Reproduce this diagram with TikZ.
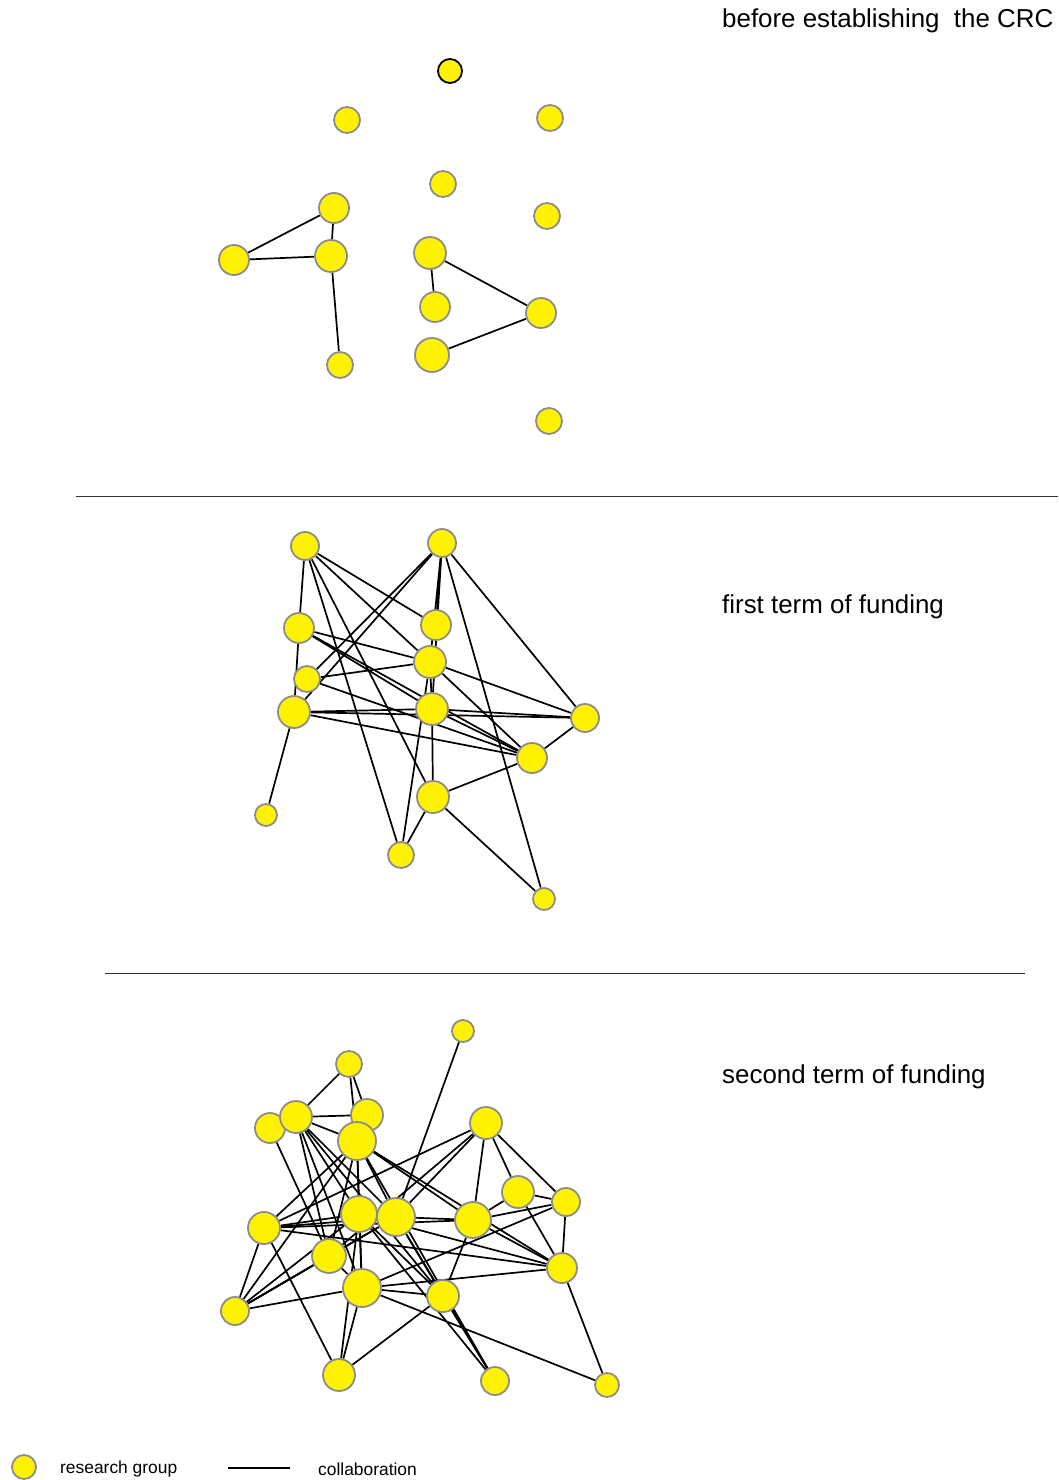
\documentclass[tikz,border=0pt]{standalone}
\usepackage{fontspec}
\setmainfont{Liberation Sans}
\usepackage{tikz}
\usetikzlibrary{backgrounds}

\tikzset{
  group/.style={circle,draw=gray!90,fill=yellow,line width=1.8pt,inner sep=0pt},
  collab/.style={draw=black,line width=1.7pt},
  sep/.style={draw=black!80,line width=1pt},
  title/.style={anchor=west,inner sep=0pt,font=\fontsize{25.9}{30}\selectfont},
  legend/.style={anchor=west,inner sep=0pt,font=\fontsize{17.4}{20}\selectfont}
}

\begin{document}
\begin{tikzpicture}[x=1pt,y=-1pt]
  \useasboundingbox (0,0) rectangle (1058,1480);

  % before establishing the CRC
  \foreach \n/\x/\y/\r in {a2/347/120/13,a3/550/118/13,a4/443/184/13,a5/547/216/13,
      a6/334/208/15,a7/331/256/16,a8/234/260/15,a9/430/253/16,a10/435/307/15,
      a11/541/313/15,a12/432/355/17,a13/340/365/13,a14/549/421/13}
    \node[group,minimum size=2*\r pt] (\n) at (\x,\y) {};
  \node[group,draw=black,minimum size=24pt] (a1) at (450,71) {};
  \begin{scope}[on background layer]
    \foreach \p/\q in {a6/a8,a6/a7,a7/a8,a7/a13,a9/a10,a9/a11,a11/a12}
      \draw[collab] (\p) -- (\q);
  \end{scope}
  \node[title] (t1) at (722,21) {before establishing\ \ the CRC};
  \coordinate (s1l) at (76,496);
  \coordinate (s1r) at (1058,496);
  \draw[sep] (s1l) -- (s1r);

  % first term of funding
  \foreach \n/\x/\y/\r in {b1/305/546/14,b2/442/543/14,b3/299/628/15,b4/436/625/15,
      b5/430/662/16,b6/307/679/13,b7/294/712/16,b8/432/709/16,b9/585/718/14,
      b10/532/758/15,b11/433/797/16,b12/266/815/11,b13/401/855/13,b14/544/899/11}
    \node[group,minimum size=2*\r pt] (\n) at (\x,\y) {};
  \begin{scope}[on background layer]
    \foreach \p/\q in {b1/b3,b1/b4,b1/b5,b1/b13,b1/b11,b2/b6,b2/b7,b2/b4,b2/b5,
        b2/b8,b2/b14,b2/b9,b3/b7,b3/b5,b3/b8,b3/b10,b6/b5,b6/b10,b7/b8,b7/b9,
        b7/b10,b7/b12,b5/b9,b5/b10,b5/b8,b5/b13,b8/b9,b8/b10,b8/b11,b9/b10,
        b10/b11,b11/b13,b11/b14}
      \draw[collab] (\p) -- (\q);
  \end{scope}
  \node[title] (t2) at (722,607) {first term of funding};
  \coordinate (s2l) at (105,973);
  \coordinate (s2r) at (1025,973);
  \draw[sep] (s2l) -- (s2r);

  % second term of funding
  \foreach \n/\x/\y/\r in {c1/463/1031/11,c2/349/1064/13,c3/270/1128/15,c4/296/1117/16,
      c5/367/1115/16,c6/357/1141/19,c7/486/1123/16,c8/518/1192/16,c9/566/1202/14,
      c10/264/1228/16,c11/359/1214/18,c12/396/1217/19,c13/473/1220/18,
      c14/329/1256/17,c15/362/1288/19,c16/562/1268/15,c17/443/1296/16,
      c18/235/1311/14,c19/339/1375/16,c20/495/1381/14,c21/607/1385/12}
    \node[group,minimum size=2*\r pt] (\n) at (\x,\y) {};
  \begin{scope}[on background layer]
    \foreach \p/\q in {c1/c12,c2/c4,c2/c6,c2/c5,c3/c14,c4/c5,c4/c6,c4/c11,c4/c14,
        c4/c15,c4/c17,c4/c12,c5/c6,c6/c11,c6/c12,c6/c15,c6/c13,c6/c16,c6/c14,
        c6/c10,c6/c18,c6/c20,c7/c12,c7/c13,c7/c8,c7/c9,c7/c10,c7/c14,c8/c9,c8/c13,
        c8/c16,c9/c16,c9/c13,c9/c15,c10/c11,c10/c12,c10/c13,c10/c16,c10/c18,
        c10/c19,c11/c15,c11/c19,c11/c17,c11/c16,c11/c20,c12/c13,c12/c17,c12/c20,
        c12/c18,c13/c16,c13/c17,c14/c18,c14/c15,c15/c16,c15/c19,c15/c21,
        c15/c17,c16/c21,c17/c19,c17/c20,c18/c11,c18/c12,c18/c15}
      \draw[collab] (\p) -- (\q);
  \end{scope}
  \node[title] (t3) at (722,1077) {second term of funding};

  % legend
  \node[group,minimum size=24pt] (lgroup) at (24,1467) {};
  \node[legend] (lgtext) at (60,1469) {research group};
  \coordinate (lcl) at (228,1468);
  \coordinate (lcr) at (290,1468);
  \draw[collab] (lcl) -- (lcr);
  \node[legend] (lctext) at (318,1469) {collaboration};
\end{tikzpicture}
\end{document}
